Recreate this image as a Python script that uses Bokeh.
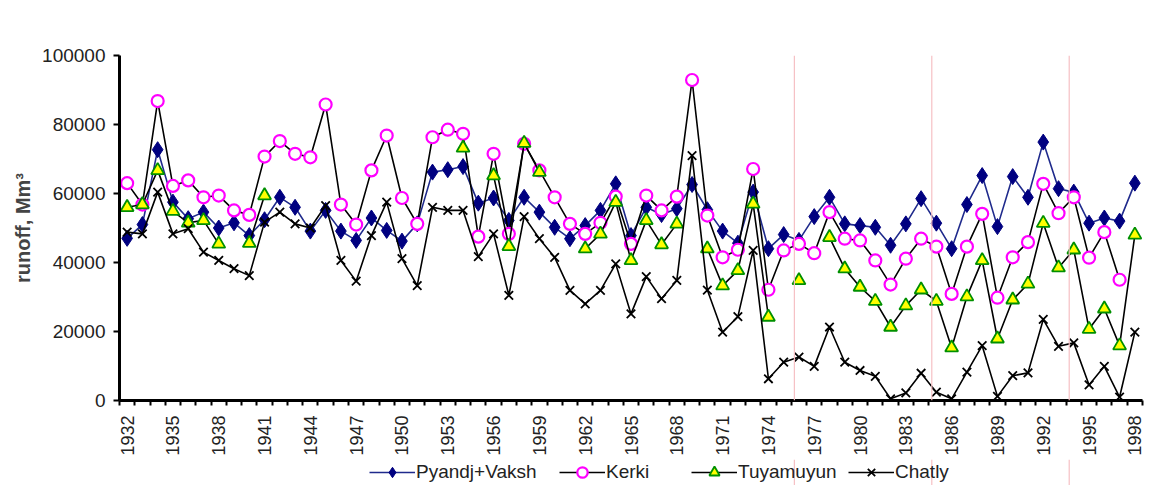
import math
import numpy as np
from bokeh.plotting import figure
from bokeh.layouts import column
from bokeh.models import (ColumnDataSource, FixedTicker, BasicTickFormatter,
                          Legend, LegendItem, Span, Range1d)
from bokeh.embed import file_html
from bokeh.resources import INLINE

nan = float("nan")

years = list(range(1932, 1999))
label_years = list(range(1932, 1999, 3))
y_ticks = [0, 20000, 40000, 60000, 80000, 100000]

pyandj_vaksh = [47000, 51000, 72700, 57500, 52700, 54600, 50000, 51500, 47800, 52400, 58900, 56000, 49100,
                55100, 49100, 46400, 52900, 49300, 46200, 51200, 66200, 66900, 67800, 57200, 58700, 52200,
                58900, 54600, 50200, 46900, 50700, 55100, 62800, 47800, 56000, 53900, 55600, 62600, 55300,
                49100, 45600, 60400, 44000, 48100, 46400, 53300, 58900, 51200, 50700, 50200, 45000,
                51200, 58500, 51400, 44000, 56800, 65200, 50400, 64900, 58900, 74900, 61400, 60400, 51400, 52900, 52000, 63000]

kerki = [63000, 56800, 86800, 62200, 63800, 58900, 59400, 55100, 53800, 70700, 75200, 71500, 70500,
         85800, 56800, 51000, 66700, 76800, 58700, 51200, 76300, 78500, 77300, 47500, 71500, 48300,
         74400, 66700, 58900, 51200, 48300, 51500, 59100, 45400, 59400, 55100, 59100, 92900, 53600,
         41500, 43700, 67100, 32100, 43500, 45400, 42700, 54600, 46900, 46400, 40600, 33600,
         41100, 46900, 44600, 30900, 44600, 54100, 29800, 41500, 45900, 62800, 54300, 58900, 41400, 48800, 35000, nan]

tuyamuyun = [56000, 56800, 66700, 54900, 51500, 52200, 45400, nan, 45600, 59400,
             nan, nan, nan, nan, nan, nan, nan, nan, nan, nan, nan, nan,
             73200, nan,
             65200, 44700, 74600, 66200, nan, nan, 44000, 48300, 57500, 40600, 52200, 45200, 51200,
             nan,
             44000, 33300, 37700, 57000, 24200, nan, 34800, nan, 47300, 38200, 32900, 28800, 21300,
             27500, 32100, 28800, 15300, 30100, 40600, 17900, 29200, 33800, 51400, 38500, 43700,
             20700, 26600, 15900, 48000]

chatly = [48800, 48300, 60400, 48300, 49800, 43000, 40600, 38200, 36200, 51700, 54600, 51200, 50000,
          56500, 40600, 34600, 47800, 57500, 41100, 33300, 56000, 55100, 55100, 41700, 48300, 30500,
          53300, 46900, 41500, 31900, 28000, 31900, 39600, 25100, 35900, 29500, 34800, 71000, 32000,
          19800, 24300, 43500, 6300, 11100, 12600, 9900, 21300, 11100, 8700, 7000, 500,
          2200, 7900, 2400, 500, 8200, 15900, 1200, 7200, 8000, 23500, 15700, 16700, 4500, 9900, 1000, 19800]

series_names = ["Pyandj+Vaksh", "Kerki", "Tuyamuyun", "Chatly"]

src = ColumnDataSource(dict(
    year=np.array(years, dtype=float),
    pv=np.array(pyandj_vaksh, dtype=float),
    ke=np.array(kerki, dtype=float),
    tu=np.array(tuyamuyun, dtype=float),
    ch=np.array(chatly, dtype=float),
))

FONT = "Liberation Sans"
W = 1147
LEFT = 119
RIGHT = 5
PINK = (1975.7, 1984.7, 1993.7)

STYLES = {
    "pv": dict(line=dict(line_color="#1F2A8C", line_width=1.6),
               mark=dict(marker="diamond", size=16, fill_color="#000080", line_color="#000080")),
    "ke": dict(line=dict(line_color="black", line_width=1.6),
               mark=dict(marker="circle", size=12, fill_color="white", line_color="#FF00FF", line_width=2.2)),
    "tu": dict(line=dict(line_color="black", line_width=1.6),
               mark=dict(marker="triangle", size=13, fill_color="#FFFF00", line_color="#009000", line_width=1.8)),
    "ch": dict(line=dict(line_color="black", line_width=1.6),
               mark=dict(marker="x", size=12, line_color="black", line_width=1.8)),
}
keys = ["pv", "ke", "tu", "ch"]

p = figure(width=W, height=459, output_backend="svg", toolbar_location=None,
           x_range=Range1d(1931.5, 1998.5), y_range=Range1d(0, 100000),
           min_border_left=LEFT, min_border_right=RIGHT, min_border_top=55, min_border_bottom=59)
p.outline_line_color = None
p.xgrid.visible = False
p.ygrid.visible = False

for loc in PINK:
    p.add_layout(Span(location=loc, dimension="height", line_color="#F6C0C4", line_width=1.2))

for k in keys:
    p.line("year", k, source=src, **STYLES[k]["line"])
    p.scatter("year", k, source=src, **STYLES[k]["mark"])

# x axis
xa = p.xaxis[0]
xa.ticker = FixedTicker(ticks=label_years, minor_ticks=[y - 0.5 for y in years] + [years[-1] + 0.5])
xa.major_label_overrides = {y: str(y) for y in label_years}
xa.major_label_orientation = math.pi / 2
xa.major_tick_out = 0
xa.major_tick_in = 0
xa.minor_tick_out = 5
xa.minor_tick_in = 0
xa.minor_tick_line_width = 2
xa.minor_tick_line_color = "black"
xa.axis_line_width = 3
xa.axis_line_color = "black"
xa.major_label_standoff = 10
xa.major_label_text_font = FONT
xa.major_label_text_font_size = "18px"
xa.major_label_text_color = "#222222"

# y axis
ya = p.yaxis[0]
ya.ticker = FixedTicker(ticks=y_ticks)
ya.formatter = BasicTickFormatter(use_scientific=False)
ya.major_tick_out = 6
ya.major_tick_in = 0
ya.major_tick_line_width = 2
ya.minor_tick_out = 0
ya.minor_tick_in = 0
ya.axis_line_width = 3
ya.major_label_standoff = 8
ya.major_label_text_font = FONT
ya.major_label_text_font_size = "19px"
ya.major_label_text_color = "#222222"
ya.axis_label = "runoff, Mm\u00b3"
ya.axis_label_text_font = FONT
ya.axis_label_text_font_style = "bold"
ya.axis_label_text_font_size = "20px"
ya.axis_label_standoff = 5

# legend strip under the plot (same horizontal frame as the chart)
q = figure(width=W, height=26, output_backend="svg", toolbar_location=None,
           x_axis_type=None, y_axis_type=None,
           min_border_left=LEFT, min_border_right=RIGHT, min_border_top=0, min_border_bottom=0,
           x_range=Range1d(1931.5, 1998.5), y_range=Range1d(0, 1))
q.outline_line_color = None
for loc in PINK:
    q.add_layout(Span(location=loc, dimension="height", line_color="#F6C0C4", line_width=1.2))

legend_x = [369, 559, 691, 848]
for name, k, lx in zip(series_names, keys, legend_x):
    rl = q.line([1900, 1901], [-5, -5], **STYLES[k]["line"])
    rm = q.scatter([1900], [-5], **STYLES[k]["mark"])
    lg = Legend(items=[LegendItem(label=name, renderers=[rl, rm])], location=(lx - LEFT, 0),
                orientation="horizontal", border_line_color=None, background_fill_alpha=0,
                padding=0, margin=0, glyph_width=46, glyph_height=26, label_standoff=1,
                label_text_font=FONT, label_text_font_size="19px", label_text_color="#222222",
                label_height=26)
    q.add_layout(lg, "center")

layout = column(p, q, spacing=0)
open("out.html", "w").write(file_html(layout, INLINE))
